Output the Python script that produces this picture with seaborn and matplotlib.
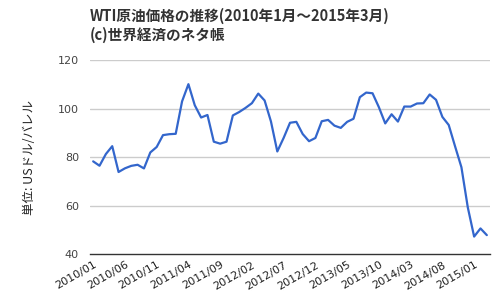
import matplotlib
matplotlib.use("Agg")
import matplotlib.pyplot as plt
import seaborn as sns
import pandas as pd

months = [f"{y}/{m:02d}" for y in range(2010, 2016) for m in range(1, 13)][:63]
prices = [78.22, 76.42, 81.24, 84.48, 73.84, 75.35, 76.37, 76.82, 75.31, 81.90, 84.14, 89.04,
          89.42, 89.58, 102.94, 110.04, 101.36, 96.29, 97.34, 86.33, 85.52, 86.32, 97.16, 98.56,
          100.27, 102.20, 106.16, 103.32, 94.66, 82.30, 87.90, 94.13, 94.51, 89.49, 86.53, 87.86,
          94.76, 95.31, 92.94, 92.02, 94.51, 95.77, 104.67, 106.57, 106.29, 100.54, 93.86, 97.63,
          94.62, 100.82, 100.80, 102.07, 102.18, 105.79, 103.59, 96.54, 93.21, 84.40, 75.79, 59.29,
          47.22, 50.58, 47.82]
y_ticks = [40, 60, 80, 100, 120]
title = "WTI原油価格の推移(2010年1月～2015年3月)\n(c)世界経済のネタ帳"
ylabel = "単位: USドル/バレル"

sns.set_style("white")
plt.rcParams['font.family'] = ['Noto Sans CJK JP', 'DejaVu Sans']

df = pd.DataFrame({"idx": range(len(months)), "month": months, "price": prices})

fig = plt.figure(figsize=(5, 3), dpi=100)
ax = fig.add_axes([0.18, 0.153, 0.80, 0.647])
for yv in y_ticks[1:]:
    ax.axhline(yv, color="#cccccc", lw=1, zorder=0)
sns.lineplot(data=df, x="idx", y="price", ax=ax, color="#3366cc", lw=1.6, zorder=3)

ax.set_xlim(-0.5, 62.5)
ax.set_ylim(40, 120)
ax.set_yticks(y_ticks)
ax.set_yticklabels([str(v) for v in y_ticks], fontsize=8, color="#444444",
                   family="DejaVu Sans")
tick_pos = list(range(0, 63, 5))
ax.set_xticks(tick_pos)
ax.set_xticklabels([months[i] for i in tick_pos], rotation=30, ha="right",
                   rotation_mode="anchor", fontsize=8, color="#222222",
                   family="DejaVu Sans")
ax.tick_params(axis="y", length=0, pad=8)
ax.tick_params(axis="x", length=0, pad=4)
for s in ["top", "right", "left"]:
    ax.spines[s].set_visible(False)
ax.spines["bottom"].set_color("#333333")
ax.spines["bottom"].set_linewidth(1)
ax.set_xlabel("")
ax.set_ylabel(ylabel, fontsize=9, color="#222222", labelpad=16)

fig.text(0.18, 0.975, title, ha="left", va="top", fontsize=10.5, fontweight="bold",
         color="#333333", linespacing=1.2)

fig.savefig("out.png", dpi=100)
